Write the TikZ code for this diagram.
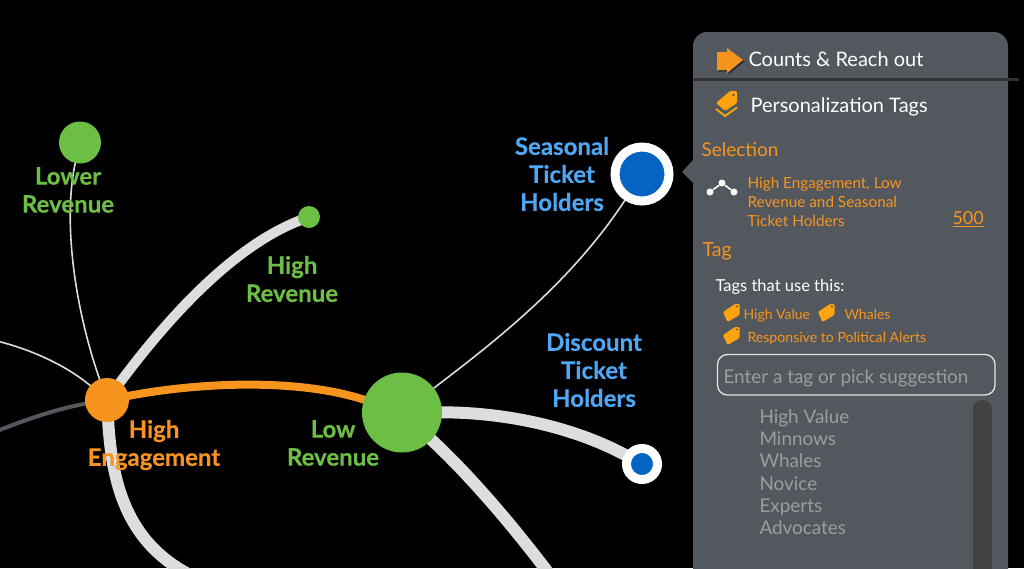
\documentclass[tikz,border=0pt]{standalone}
\usepackage{fontspec}
\setmainfont{Lato}[BoldFeatures={FakeBold=0.35}]
\usetikzlibrary{backgrounds}
\definecolor{hiorange}{HTML}{F7941D}
\definecolor{tagorange}{HTML}{FFA30F}
\definecolor{revgreen}{HTML}{6DBE45}
\definecolor{tickblue}{HTML}{0563C4}
\definecolor{labelblue}{HTML}{4FA6F2}
\definecolor{edgegrey}{HTML}{DCDDDF}
\definecolor{panelgrey}{HTML}{53585F}
\definecolor{hintgrey}{HTML}{9A9EA2}
\definecolor{scrollgrey}{HTML}{414243}
\tikzset{dot/.style={circle,inner sep=0pt,minimum size=#1,fill}}
\tikzset{ring/.style={circle,inner sep=0pt,minimum size=#1,fill=tickblue,draw=white}}
\tikzset{biglabel/.style={align=center,font=\fontsize{24}{28}\selectfont\bfseries}}
\tikzset{wideedge/.style={draw=edgegrey,line width=#1,shorten <=-3pt,shorten >=-3pt}}
\tikzset{thinedge/.style={draw=edgegrey,line width=1.6pt,shorten <=-3pt,shorten >=-3pt}}
\tikzset{paneltext/.style={anchor=west,text=white,font=\fontsize{20}{24}\selectfont,text height=14pt,text depth=5pt}}
\tikzset{ortext/.style={anchor=west,text=hiorange,font=\fontsize{#1}{#1}\selectfont,text height=0.72*#1 pt,text depth=0.22*#1 pt}}
\tikzset{hinttext/.style={anchor=west,text=hintgrey,font=\fontsize{18.9}{22}\selectfont,text height=14pt,text depth=4pt}}
\tikzset{tagmark/.pic={
    \fill[tagorange,rounded corners=1.2pt] (-8,-1) -- (4,-9) -- (8.5,-9) -- (8.5,2) -- (-3.5,9) -- cycle;
    \fill[panelgrey] (6,-6.5) circle (1.1);
}}
\begin{document}
\begin{tikzpicture}[x=1pt,y=-1pt]
    \useasboundingbox (0,0) rectangle (1024,568);
    % circles
    \node[dot=44pt,fill=hiorange] (eng) at (107,400) {};
    \node[dot=80pt,fill=revgreen] (low) at (402,412.5) {};
    \node[dot=42pt,fill=revgreen] (lower) at (80,142.5) {};
    \node[dot=22pt,fill=revgreen] (high) at (309,217) {};
    \node[ring=54pt,line width=9pt] (season) at (642,174) {};
    \node[ring=31pt,line width=9pt] (discount) at (642,464) {};
    \coordinate (leftthin) at (-3,341);
    \coordinate (leftgrey) at (-3,431);
    \coordinate (downa) at (190,575);
    \coordinate (downb) at (550,575);
    \begin{scope}[on background layer]
        \clip (0,0) rectangle (1024,568);
        \fill[black] (0,0) rectangle (1024,568);
        \draw[thinedge] (lower) .. controls (62,220) and (75,310) .. (eng);
        \draw[thinedge] (leftthin) .. controls (35,350) and (70,368) .. (eng);
        \draw[draw=panelgrey,line width=4pt,shorten >=-3pt] (leftgrey) .. controls (30,418) and (60,408) .. (eng);
        \draw[wideedge=10pt] (eng) .. controls (170,315) and (235,245) .. (high);
        \draw[draw=hiorange,line width=8pt,shorten <=-3pt,shorten >=-3pt] (eng) .. controls (200,382) and (300,378) .. (low);
        \draw[wideedge=12pt] (eng) .. controls (112,490) and (130,545) .. (downa);
        \draw[thinedge] (low) .. controls (490,345) and (570,285) .. (season);
        \draw[wideedge=12pt] (low) .. controls (500,412) and (570,425) .. (discount);
        \draw[wideedge=12pt] (low) .. controls (475,480) and (520,535) .. (downb);
    \end{scope}
    % labels
    \node[biglabel,text=revgreen] (lowerlab) at (68,190) {Lower\\Revenue};
    \node[biglabel,text=revgreen] (highlab) at (292,279) {High\\Revenue};
    \node[biglabel,text=labelblue] (seasonlab) at (562,174) {Seasonal\\Ticket\\Holders};
    \node[biglabel,text=labelblue] (discountlab) at (594,370) {Discount\\Ticket\\Holders};
    \node[biglabel,text=hiorange] (englab) at (154,445) {High\\Engagement};
    \node[biglabel,text=revgreen] (lowlab) at (333,443) {Low\\Revenue};
    % panel
    \fill[panelgrey,rounded corners=14pt] (693,32) -- (1008,32) -- (1008,600) -- (693,600) -- cycle;
    \fill[panelgrey] (693,160) -- (682,172) -- (693,183) -- cycle;
    \draw[draw=black!80,line width=2.2pt] (693,79.5) -- (1019,79.5);
    \fill[black!50!panelgrey] (718.5,53.5) -- (728.5,53.5) -- (728.5,49.5) -- (744.5,61.5) -- (728.5,74.5) -- (728.5,71.5) -- (718.5,71.5) -- cycle;
    \fill[hiorange] (717,52) -- (727,52) -- (727,48) -- (743,60) -- (727,73) -- (727,70) -- (717,70) -- cycle;
    \node[paneltext] (counts) at (745,62) {Counts \& Reach out};
    \fill[tagorange,rounded corners=1.2pt] (716,103) -- (730,91) -- (737,91) -- (737,103) -- (725,111) -- cycle;
    \draw[tagorange,line width=1.8pt] (716,109) -- (725,116) -- (737,107.5);
    \fill[panelgrey] (733.5,95) circle (1.4);
    \node[paneltext] (perso) at (747,108) {Personalization Tags};
    \node[ortext=19] (sel) at (698,152) {Selection};
    \node[dot=7pt,fill=white] (ia) at (710,192) {};
    \node[dot=7pt,fill=white] (ib) at (722,183) {};
    \node[dot=7pt,fill=white] (ic) at (734,192) {};
    \draw[white,line width=1.6pt] (ia) -- (ib) -- (ic);
    \node[anchor=west,align=left,text=hiorange,font=\fontsize{15.3}{19}\selectfont] (seltext) at (744,202) {High Engagement, Low\\Revenue and Seasonal\\Ticket Holders};
    \node[ortext=18] (count) at (949,220) {\underline{500}};
    \node[ortext=19.5] (tag) at (699,252) {Tag};
    \node[anchor=west,text=white,font=\fontsize{16.5}{18}\selectfont] (uses) at (712,287) {Tags that use this:};
    \pic at (731,313) {tagmark};
    \node[ortext=14] (va) at (740,316) {High Value};
    \pic at (826,313) {tagmark};
    \node[ortext=14] (vb) at (841,316) {Whales};
    \pic at (731,336) {tagmark};
    \node[ortext=14.1] (vc) at (744,339) {Responsive to Political Alerts};
    \draw[draw=white!90!black,line width=1.3pt,rounded corners=10pt] (717.5,354.5) rectangle (995,395);
    \node[hinttext] (enter) at (720,378) {Enter a tag or pick suggestion};
    \fill[scrollgrey,rounded corners=9pt] (973,400) rectangle (992,600);
    \node[hinttext] (sa) at (756,418) {High Value};
    \node[hinttext] (sb) at (756,440) {Minnows};
    \node[hinttext] (sc) at (756,462.5) {Whales};
    \node[hinttext] (sd) at (756,485) {Novice};
    \node[hinttext] (se) at (756,507) {Experts};
    \node[hinttext] (sf) at (756,529.5) {Advocates};
\end{tikzpicture}
\end{document}
